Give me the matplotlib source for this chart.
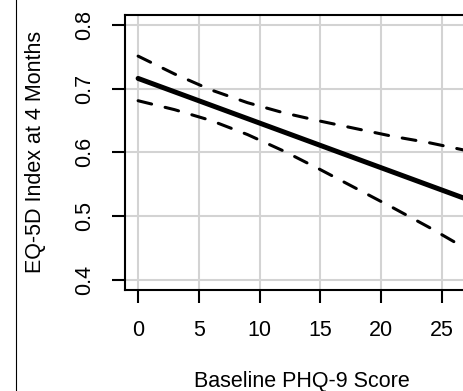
"""EQ-5D index at 4 months vs baseline PHQ-9, fitted line with 95% band."""
import matplotlib
matplotlib.use('Agg')
import matplotlib.pyplot as plt
from matplotlib.lines import Line2D

# values
phq9 = [0, 3, 6, 9, 12, 15, 18, 21, 24, 27]
fit = [0.716, 0.695, 0.674, 0.653, 0.632, 0.611, 0.590, 0.569, 0.548, 0.527]
upper = [0.751, 0.723, 0.698, 0.678, 0.662, 0.649, 0.637, 0.625, 0.615, 0.603]
lower = [0.681, 0.667, 0.650, 0.628, 0.602, 0.573, 0.543, 0.513, 0.482, 0.449]

x_ticks = [0, 5, 10, 15, 20, 25]
y_ticks = [0.4, 0.5, 0.6, 0.7, 0.8]

plt.rcParams['font.family'] = ['Liberation Sans', 'DejaVu Sans']
plt.rcParams['lines.scale_dashes'] = False

W, H = 463, 391
fig = plt.figure(figsize=(W / 100, H / 100), dpi=100)
# the plot runs past the right edge of the picture (it was cropped)
ax = fig.add_axes([125 / W, (H - 290) / H, (479 - 125) / W, (290 - 14.7) / H])

ax.plot(phq9, fit, color='black', lw=3.6, solid_capstyle='round', zorder=3)
for band in (upper, lower):
    ax.plot(phq9, band, color='black', lw=2.2, dashes=(10, 10),
            dash_capstyle='round', zorder=3)

ax.set_xlim(-1.08, 28.08)
ax.set_ylim(0.384, 0.816)
ax.set_xticks(x_ticks)
ax.set_yticks(y_ticks)
ax.set_xticklabels([str(t) for t in x_ticks])
ax.set_yticklabels([f'{t:.1f}' for t in y_ticks])
ax.grid(True, color='#d3d3d3', lw=1.5, zorder=0)
ax.set_axisbelow(True)

for sp in ax.spines.values():
    sp.set_linewidth(1.5)
ax.tick_params(direction='out', length=9.5, width=1.5, labelsize=15.5, pad=12)
for lbl in ax.get_yticklabels():
    lbl.set_rotation(90)
    lbl.set_va('center')

ax.set_xlabel('Baseline PHQ-9 Score', fontsize=15.5, va='center')
ax.set_ylabel('EQ-5D Index at 4 Months', fontsize=15.5, va='center')
ax.xaxis.set_label_coords(0.5, (290 - 382) / 275.3)
ax.yaxis.set_label_coords((36 - 125) / 354, 0.5)

# thin border line of the surrounding panel on the left
fig.add_artist(Line2D([15.5 / W, 15.5 / W], [0, 1], color='black', lw=0.8))

fig.savefig('out.png', dpi=100)
